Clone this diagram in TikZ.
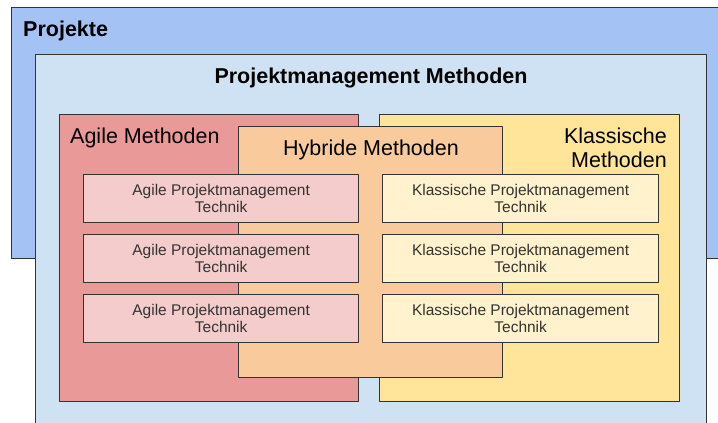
\documentclass[tikz,border=0pt]{standalone}
\usepackage{fontspec}
\setmainfont{Liberation Sans}
\usetikzlibrary{positioning}
\definecolor{projblau}{HTML}{A4C2F4}
\definecolor{pmblau}{HTML}{CFE2F3}
\definecolor{agilrot}{HTML}{EA9999}
\definecolor{hybridorange}{HTML}{F9CB9C}
\definecolor{klassgelb}{HTML}{FFE599}
\definecolor{agiltech}{HTML}{F4CCCC}
\definecolor{klasstech}{HTML}{FFF2CC}
\definecolor{rahmen}{HTML}{333333}
\definecolor{textgrau}{HTML}{333333}
\tikzset{
	feld/.style={draw=rahmen, line width=1.3pt, inner sep=0pt, anchor=north west},
	titel/.style={font=\fontsize{21.5}{24}\selectfont, inner sep=0pt},
	fetttitel/.style={titel, font=\fontsize{21.5}{24}\selectfont\bfseries},
	technik/.style={feld, minimum height=48, font=\fontsize{15.5}{17}\selectfont,
		text=textgrau, align=center},
}
\begin{document}
\begin{tikzpicture}[x=1pt, y=-1pt, line join=round]
	\useasboundingbox (0,0) rectangle (718,423);
	\clip (0,0) rectangle (718,423);
	%% Rahmen
	\node[feld, fill=projblau, minimum width=720, minimum height=251] (projekte) at (11,7) {};
	\node[feld, fill=pmblau, minimum width=671, minimum height=390] (pm) at (35,54) {};
	\node[feld, fill=agilrot, minimum width=299, minimum height=287] (agil) at (59,114) {};
	\node[feld, fill=klassgelb, minimum width=300, minimum height=287] (klass) at (379,114) {};
	\node[feld, fill=hybridorange, minimum width=264, minimum height=251] (hybrid) at (238,126) {};
	%% Titel
	\node[fetttitel, anchor=base west] (projektetitel) at (23,36) {Projekte};
	\node[fetttitel, anchor=base] (pmtitel) at (371,83) {Projektmanagement Methoden};
	\node[titel, anchor=base west] (agiltitel) at (70,143) {Agile Methoden};
	\node[titel, anchor=base] (hybridtitel) at (371,155) {Hybride Methoden};
	\node[titel, anchor=base east] (klasstitel) at (667,143) {Klassische};
	\node[titel, anchor=base east] (klasstitelb) at (667,167) {Methoden};
	%% Techniken
	\foreach \i/\y in {1/174,2/234,3/294}{
		\node[technik, fill=agiltech, minimum width=275] (agiltech\i) at (83,\y)
		{Agile Projektmanagement\\Technik};
		\node[technik, fill=klasstech, minimum width=276] (klasstech\i) at (382,\y)
		{Klassische Projektmanagement\\Technik};
	}
\end{tikzpicture}
\end{document}
